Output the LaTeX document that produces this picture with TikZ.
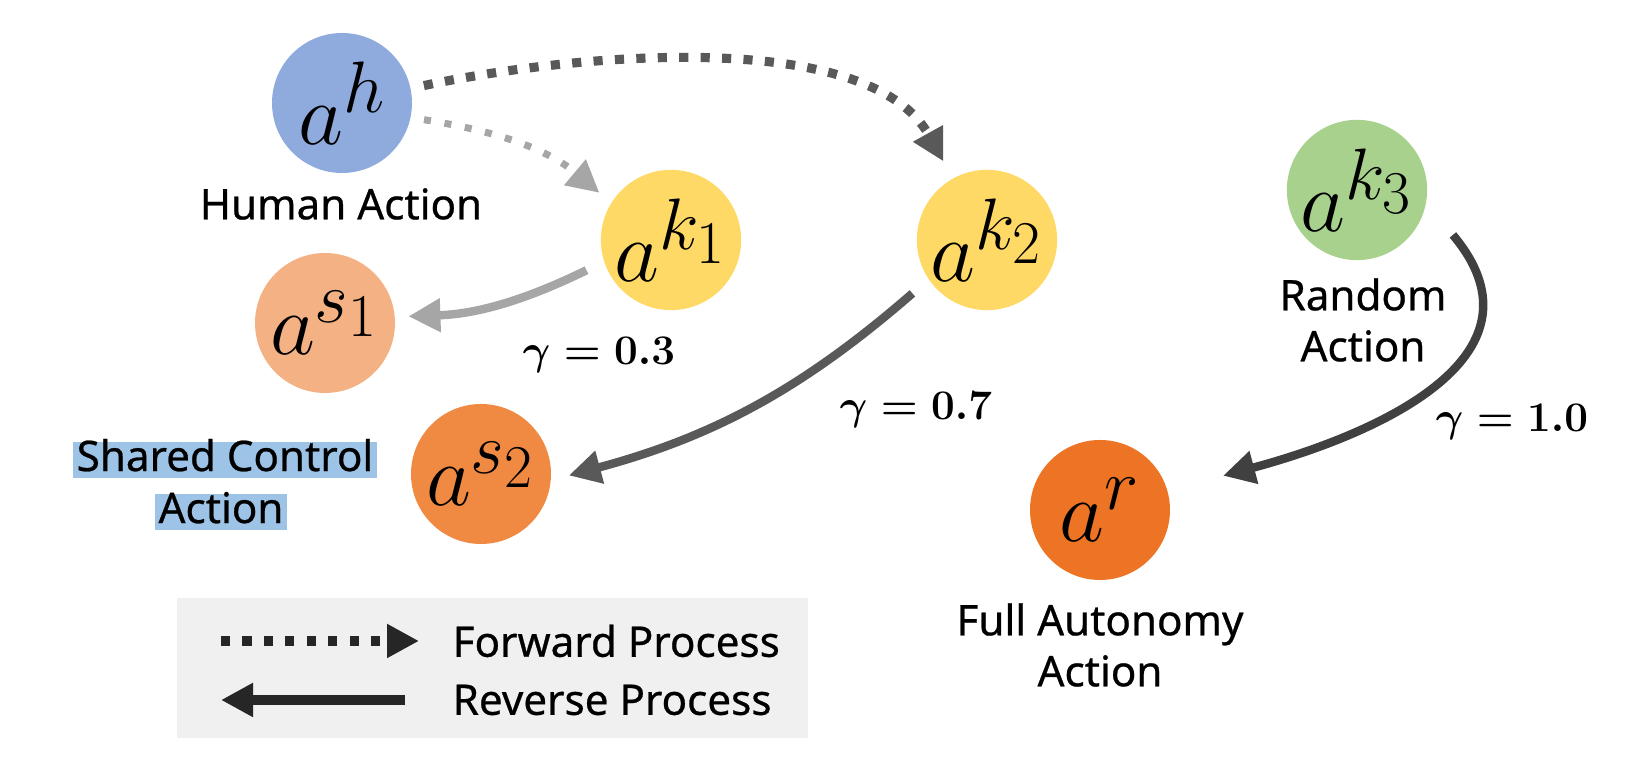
\documentclass[tikz,border=0pt]{standalone}
\usepackage{amsmath,amssymb}
\usepackage{fontspec}
\setmainfont{Noto Sans}[FakeBold=0.6]
\usepackage{xcolor}
\usepackage{tikz}
\usetikzlibrary{arrows.meta}

\definecolor{humanblue}{HTML}{8FAADC}
\definecolor{keyyellow}{HTML}{FFD966}
\definecolor{randgreen}{HTML}{A9D18E}
\definecolor{sharedlight}{HTML}{F4B183}
\definecolor{shareddark}{HTML}{F08A42}
\definecolor{autoorange}{HTML}{EC7424}
\definecolor{inkmid}{HTML}{595959}
\definecolor{inkdark}{HTML}{404040}
\definecolor{inklight}{HTML}{A6A6A6}
\definecolor{legendink}{HTML}{262626}
\definecolor{legendgray}{HTML}{F0F0F0}
\definecolor{hlblue}{HTML}{9DC3E6}

\begin{document}
\begin{tikzpicture}[
    act/.style={circle, minimum size=1.4cm, inner sep=0pt, font=\fontsize{24.88}{28}\selectfont},
    lbl/.style={font=\fontsize{12}{14.5}\selectfont, align=center, inner sep=0pt},
    gam/.style={font=\fontsize{12}{14}\selectfont, inner sep=0pt},
    hilite/.style={fill=hlblue, font=\fontsize{12}{14.5}\selectfont, inner xsep=1pt, inner ysep=0pt, text height=8.4pt, text depth=2.1pt},
    fwd/.style={line width=2.6pt, dash pattern=on 2.6pt off 3.5pt, -{Triangle[length=0.32cm, width=0.32cm]}},
    rev/.style={line width=2.4pt, -{Triangle[length=0.32cm, width=0.32cm]}},
]
        \useasboundingbox (0,0) rectangle (16.5,7.6);

        % actions
        \node[act, fill=humanblue] (ah) at (3.42, 6.57) {$a^{h}$};
        \node[act, fill=keyyellow] (k1) at (6.71, 5.20) {$a^{k_1}$};
        \node[act, fill=keyyellow] (k2) at (9.87, 5.20) {$a^{k_2}$};
        \node[act, fill=randgreen] (k3) at (13.57, 5.70) {$a^{k_3}$};
        \node[act, fill=sharedlight] (s1) at (3.25, 4.37) {$a^{s_1}$};
        \node[act, fill=shareddark] (s2) at (4.81, 2.86) {$a^{s_2}$};
        \node[act, fill=autoorange] (ar) at (11.00, 2.50) {$a^{r}$};

        \node[lbl] (ahlbl) at (3.41, 5.56) {Human Action};
        \node[lbl] (k3lbl) at (13.63, 4.40) {Random\\Action};
        \node[lbl] (arlbl) at (11.00, 1.15) {Full Autonomy\\Action};
        \node[hilite] (s2lbla) at (2.25, 3.00) {Shared Control};
        \node[hilite] (s2lblb) at (2.21, 2.48) {Action};

        \node[gam] (g1) at (5.99, 4.05) {$\boldsymbol{\gamma = 0.3}$};
        \node[gam] (g2) at (9.16, 3.50) {$\boldsymbol{\gamma = 0.7}$};
        \node[gam] (g3) at (15.12, 3.38) {$\boldsymbol{\gamma = 1.0}$};

        % forward process
        \draw[fwd, inkmid, shorten <=0.13cm, shorten >=0.19cm]
            (ah.12) to[out=12, in=119, looseness=0.8] (k2.119);
        \draw[fwd, inklight, line width=2pt, dash pattern=on 2pt off 3.9pt, shorten <=0.13cm, shorten >=0.15cm]
            (ah.-12) to[out=-9, in=140] (k1.148);

        % reverse process
        \draw[rev, inklight, shorten <=0.19cm, shorten >=0.13cm] (k1.198) to[out=206, in=2] (s1.5);
        \draw[rev, inkmid, shorten <=0.21cm, shorten >=0.18cm] (k2.214) to[out=221, in=15] (s2.-5);
        \draw[rev, inkdark, shorten <=0.41cm, shorten >=0.57cm]
            (k3.-11) to[out=-50, in=15, looseness=1.35] (ar.16);

        % legend
        \fill[legendgray] (1.77, 0.22) rectangle (8.08, 1.62);
        \coordinate (fwdA) at (2.21, 1.19);
        \coordinate (fwdB) at (4.19, 1.19);
        \coordinate (revA) at (4.05, 0.60);
        \coordinate (revB) at (2.21, 0.60);
        \draw[fwd, legendink] (fwdA) -- (fwdB);
        \draw[rev, legendink, line width=3pt] (revA) -- (revB);
        \node[lbl, anchor=west] (fwdlbl) at (4.52, 1.19) {Forward Process};
        \node[lbl, anchor=west] (revlbl) at (4.52, 0.60) {Reverse Process};
\end{tikzpicture}
\end{document}
